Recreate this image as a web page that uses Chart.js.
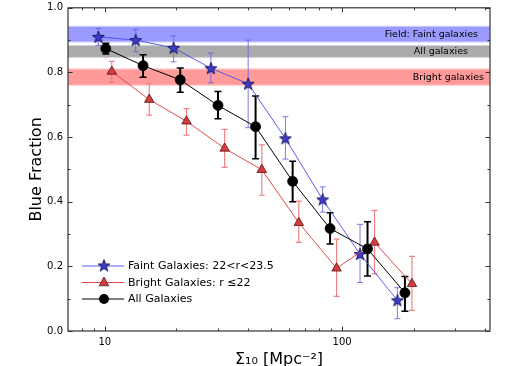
<!DOCTYPE html>
<html><head><meta charset="utf-8">
<script src="https://cdn.jsdelivr.net/npm/chart.js@4/dist/chart.umd.min.js"></script>
<style>html,body{margin:0;padding:0;background:#fff;}canvas{display:block;}</style>
</head><body>
<canvas id="c" width="509" height="366"></canvas>
<script>
// ---- data ----
const sigmaFaint = [9.4, 13.5, 19.5, 28.0, 40.2, 57.7, 82.8, 119, 171];
const faint      = [0.910, 0.900, 0.876, 0.813, 0.765, 0.596, 0.407, 0.238, 0.095];
const faintLo    = [0.884, 0.864, 0.833, 0.768, 0.629, 0.532, 0.368, 0.150, 0.038];
const faintHi    = [0.936, 0.933, 0.913, 0.860, 0.900, 0.663, 0.446, 0.330, 0.134];

const sigmaBright = [10.7, 15.4, 22.1, 32.0, 45.9, 65.7, 94.8, 137, 197];
const bright      = [0.803, 0.716, 0.649, 0.565, 0.499, 0.335, 0.194, 0.274, 0.146];
const brightLo    = [0.770, 0.668, 0.606, 0.506, 0.420, 0.274, 0.107, 0.177, 0.064];
const brightHi    = [0.834, 0.765, 0.688, 0.624, 0.576, 0.402, 0.284, 0.373, 0.231];

const sigmaAll = [10.1, 14.5, 20.8, 30.0, 43.2, 61.9, 89.0, 128, 184];
const allGal   = [0.874, 0.821, 0.777, 0.698, 0.632, 0.463, 0.317, 0.254, 0.118];
const allLo    = [0.857, 0.785, 0.739, 0.657, 0.533, 0.400, 0.269, 0.170, 0.061];
const allHi    = [0.890, 0.855, 0.814, 0.741, 0.727, 0.525, 0.366, 0.338, 0.169];

const bandLabels = ["Field: Faint galaxies", "All galaxies", "Bright galaxies"];
const bandLow    = [0.893, 0.845, 0.759];
const bandHigh   = [0.944, 0.885, 0.812];

const seriesLabels = ["Faint Galaxies: 22<r<23.5", "Bright Galaxies: r \u226422", "All Galaxies"];
const xMajorTicks = [10, 100];
const xMinorTicks = [8, 9, 20, 30, 40, 50, 60, 70, 80, 90, 200, 300, 400];
const yMajorTicks = [0, 0.2, 0.4, 0.6, 0.8, 1.0];
const yMinorTicks = [0.1, 0.3, 0.5, 0.7, 0.9];

// ---- styles ----
const FONT = "'DejaVu Sans', sans-serif";
const bandColors = ["rgba(100,100,255,0.65)", "rgba(150,150,150,0.8)", "rgba(255,100,100,0.65)"];
const bandLabelRight = [478, 468, 484];

function makeStar(fill, stroke) {
  const c = document.createElement('canvas');
  c.width = 16; c.height = 16;
  const g = c.getContext('2d');
  g.beginPath();
  for (let i = 0; i < 10; i++) {
    const r = (i % 2 === 0) ? 6.3 : 2.6;
    const a = -Math.PI / 2 + i * Math.PI / 5;
    const px = 8 + r * Math.cos(a), py = 8.5 + r * Math.sin(a);
    if (i === 0) g.moveTo(px, py); else g.lineTo(px, py);
  }
  g.closePath();
  g.fillStyle = fill; g.fill();
  g.lineWidth = 0.9; g.strokeStyle = stroke; g.stroke();
  return c;
}
const starImg = makeStar('#3b3bc8', '#12125a');

const series = [
  {label: seriesLabels[0], x: sigmaFaint, y: faint, lo: faintLo, hi: faintHi,
   line: 'rgba(75,75,235,0.9)', err: 'rgba(100,100,230,0.85)', errW: 1, cap: 3,
   style: starImg, radius: 7, fill: '#3b3bc8', edge: '#12125a'},
  {label: seriesLabels[1], x: sigmaBright, y: bright, lo: brightLo, hi: brightHi,
   line: 'rgba(225,65,65,0.95)', err: 'rgba(235,120,120,0.9)', errW: 1.2, cap: 3,
   style: 'triangle', radius: 5.5, fill: '#d23c3c', edge: '#5a1414'},
  {label: seriesLabels[2], x: sigmaAll, y: allGal, lo: allLo, hi: allHi,
   line: '#000', err: '#000', errW: 2, cap: 3.5,
   style: 'circle', radius: 5, fill: '#000', edge: '#000'}
];

const datasets = series.map((s, k) => ({
  label: s.label,
  data: s.x.map((v, i) => ({x: v, y: s.y[i]})),
  borderColor: s.line,
  borderWidth: 1,
  pointStyle: s.style,
  pointRadius: s.radius,
  pointBackgroundColor: s.fill,
  pointBorderColor: s.edge,
  pointBorderWidth: 0.8,
  tension: 0,
  fill: false,
  order: 3 - k
}));

const decorPlugin = {
  id: 'decor',
  beforeDatasetsDraw(chart) {
    const {ctx, chartArea: a, scales: {x, y}} = chart;
    ctx.save();
    // bands
    for (let i = 0; i < bandLow.length; i++) {
      const y1 = y.getPixelForValue(bandHigh[i]), y2 = y.getPixelForValue(bandLow[i]);
      ctx.fillStyle = bandColors[i];
      ctx.fillRect(a.left, y1, a.right - a.left, y2 - y1);
      ctx.strokeStyle = 'rgba(255,255,255,0.5)';
      ctx.lineWidth = 1;
      ctx.strokeRect(a.left, y1 + 0.5, a.right - a.left, y2 - y1 - 1);
    }
    // band labels
    ctx.font = "9.5px " + FONT;
    ctx.fillStyle = '#000';
    ctx.textAlign = 'right';
    ctx.textBaseline = 'middle';
    for (let i = 0; i < bandLabels.length; i++) {
      const ym = y.getPixelForValue((bandLow[i] + bandHigh[i]) / 2);
      ctx.fillText(bandLabels[i], bandLabelRight[i], ym);
    }
    // error bars
    ctx.beginPath(); ctx.rect(a.left, a.top, a.right - a.left, a.bottom - a.top); ctx.clip();
    series.forEach(s => {
      ctx.strokeStyle = s.err;
      s.x.forEach((v, i) => {
        const px = x.getPixelForValue(v);
        const p1 = y.getPixelForValue(s.lo[i]), p2 = y.getPixelForValue(s.hi[i]);
        ctx.lineWidth = s.errW;
        ctx.beginPath();
        ctx.moveTo(px, p1); ctx.lineTo(px, p2);
        ctx.stroke();
        ctx.lineWidth = Math.min(s.errW, 1.5);
        ctx.beginPath();
        ctx.moveTo(px - s.cap, p1); ctx.lineTo(px + s.cap, p1);
        ctx.moveTo(px - s.cap, p2); ctx.lineTo(px + s.cap, p2);
        ctx.stroke();
      });
    });
    ctx.restore();
  },
  afterDatasetsDraw(chart) {
    const {ctx, chartArea: a, scales: {x, y}} = chart;
    ctx.save();
    // frame
    ctx.strokeStyle = '#333';
    ctx.lineWidth = 1.2;
    ctx.strokeRect(a.left, a.top, a.right - a.left, a.bottom - a.top);
    // ticks (inward, all sides)
    ctx.lineWidth = 1;
    ctx.beginPath();
    const xt = (vals, len) => vals.forEach(v => {
      const px = Math.round(x.getPixelForValue(v)) + 0.5;
      ctx.moveTo(px, a.bottom); ctx.lineTo(px, a.bottom - len);
      ctx.moveTo(px, a.top); ctx.lineTo(px, a.top + len);
    });
    const yt = (vals, len) => vals.forEach(v => {
      const py = Math.round(y.getPixelForValue(v)) + 0.5;
      ctx.moveTo(a.left, py); ctx.lineTo(a.left + len, py);
      ctx.moveTo(a.right, py); ctx.lineTo(a.right - len, py);
    });
    xt(xMajorTicks, 4.5); xt(xMinorTicks, 2.5);
    yt(yMajorTicks, 4.5); yt(yMinorTicks, 2.5);
    ctx.stroke();
    // legend
    const lx1 = 82, lx2 = 124, lxm = 104, tx = 128;
    const rows = [266, 282.5, 299];
    ctx.font = "11px " + FONT;
    ctx.textAlign = 'left';
    ctx.textBaseline = 'middle';
    series.forEach((s, i) => {
      const ly = rows[i];
      ctx.strokeStyle = s.line; ctx.lineWidth = 1;
      ctx.beginPath(); ctx.moveTo(lx1, ly); ctx.lineTo(lx2, ly); ctx.stroke();
      if (s.style === 'circle') {
        ctx.fillStyle = s.fill;
        ctx.beginPath(); ctx.arc(lxm, ly, s.radius, 0, Math.PI * 2); ctx.fill();
      } else if (s.style === 'triangle') {
        ctx.fillStyle = s.fill; ctx.strokeStyle = s.edge;
        const r = s.radius;
        ctx.beginPath();
        ctx.moveTo(lxm, ly - r); ctx.lineTo(lxm + r * 0.866, ly + r * 0.5 + 0.5); ctx.lineTo(lxm - r * 0.866, ly + r * 0.5 + 0.5);
        ctx.closePath(); ctx.fill(); ctx.lineWidth = 0.8; ctx.stroke();
      } else {
        ctx.drawImage(s.style, lxm - 8, ly - 8.5);
      }
      ctx.fillStyle = '#000';
      ctx.fillText(s.label, tx, ly + 0.5);
    });
    ctx.restore();
  }
};

new Chart(document.getElementById('c'), {
  type: 'line',
  data: {datasets},
  options: {
    responsive: false,
    animation: false,
    devicePixelRatio: 1,
    layout: {padding: {top: 5, right: 19, left: 0, bottom: 0}},
    plugins: {legend: {display: false}, tooltip: {enabled: false}},
    scales: {
      x: {
        type: 'logarithmic', min: 7, max: 420,
        grid: {display: false, drawTicks: false},
        border: {display: false},
        afterBuildTicks: sc => { sc.ticks = xMajorTicks.concat(xMinorTicks).sort((p, q) => p - q).map(v => ({value: v})); },
        afterFit: sc => { sc.height = 35; sc.paddingLeft = 0; sc.paddingRight = 0; },
        ticks: {
          autoSkip: false, maxRotation: 0, padding: 5, color: '#000',
          font: {family: FONT, size: 10},
          callback: v => xMajorTicks.includes(v) ? String(v) : ''
        },
        title: {display: true, text: '\u03A3\u2081\u2080 [Mpc\u207B\u00B2]', color: '#000',
                font: {family: FONT, size: 16}, padding: {top: 0, bottom: -3}}
      },
      y: {
        min: 0, max: 1,
        grid: {display: false, drawTicks: false},
        border: {display: false},
        afterBuildTicks: sc => { sc.ticks = yMajorTicks.map(v => ({value: v})); },
        afterFit: sc => { sc.width = 68; sc.paddingTop = 0; sc.paddingBottom = 0; },
        ticks: {
          padding: 5, color: '#000',
          font: {family: FONT, size: 10},
          callback: v => v.toFixed(1)
        },
        title: {display: true, text: 'Blue Fraction', color: '#000',
                font: {family: FONT, size: 16}, padding: {top: 27, bottom: 0}}
      }
    }
  },
  plugins: [decorPlugin]
});
</script>
</body></html>
